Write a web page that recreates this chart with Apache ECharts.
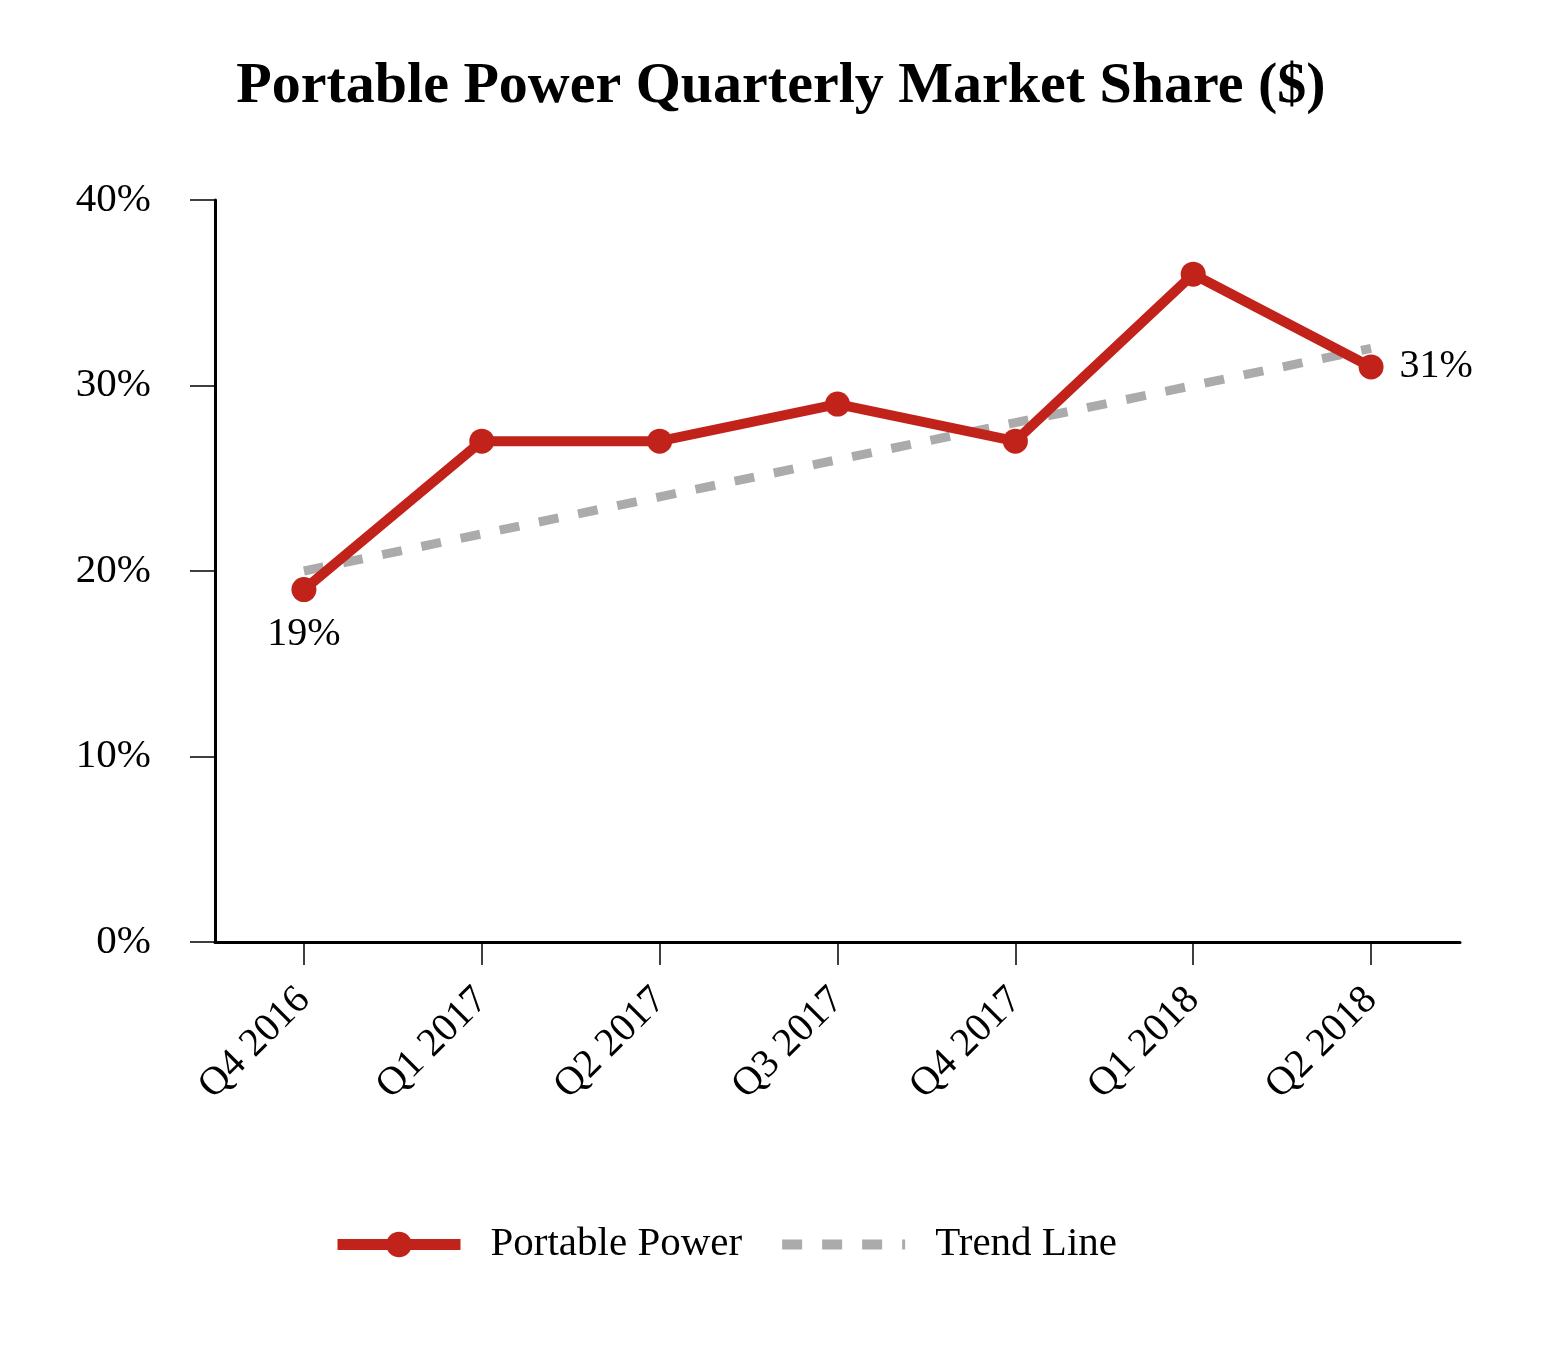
<!DOCTYPE html>
<html>
<head>
<meta charset="utf-8">
<script src="https://cdn.jsdelivr.net/npm/echarts@6/dist/echarts.min.js"></script>
<style>
html,body{margin:0;padding:0;background:#fff;}
#chart{width:1562px;height:1354px;}
</style>
</head>
<body>
<div id="chart"></div>
<script>
const categories = ['Q4 2016','Q1 2017','Q2 2017','Q3 2017','Q4 2017','Q1 2018','Q2 2018'];
const portablePower = [19, 27, 27, 29, 27, 36, 31];
const trendLine = [20, 22, 24, 26, 28, 30, 32];
const yTicks = [0, 10, 20, 30, 40];

const FONT = "'Liberation Serif', 'Times New Roman', serif";
const RED = '#C1221A';
const GRAY = '#ABABAB';

const chart = echarts.init(document.getElementById('chart'), null, {renderer: 'canvas'});

const ppData = portablePower.map((v, i) => {
  if (i === 0) return {value: v, label: {show: true, position: 'bottom', distance: 12}};
  if (i === portablePower.length - 1) return {value: v, label: {show: true, position: 'right', distance: 16, padding: [8, 0, 0, 0]}};
  return v;
});

chart.setOption({
  animation: false,
  backgroundColor: '#fff',
  title: {
    text: 'Portable Power Quarterly Market Share ($)',
    left: 'center',
    top: 53,
    textStyle: {fontFamily: FONT, fontSize: 58, fontWeight: 'bold', color: '#000'}
  },
  grid: {left: 215, right: 102, top: 200, bottom: 412, containLabel: false},
  legend: {
    left: 332,
    top: 1224,
    padding: 0,
    itemWidth: 123,
    itemHeight: 32,
    itemGap: 35,
    textStyle: {fontFamily: FONT, fontSize: 41, color: '#000', padding: [0, 0, 0, 25]},
    data: [
      {name: 'Portable Power', lineStyle: {width: 11, color: RED}},
      {name: 'Trend Line', icon: 'inherit', itemStyle: {opacity: 0}, lineStyle: {width: 10, color: GRAY, type: [20, 20]}}
    ]
  },
  xAxis: {
    type: 'category',
    data: categories,
    boundaryGap: true,
    axisLine: {show: true, lineStyle: {color: '#000', width: 3}},
    axisTick: {show: true, alignWithLabel: true, length: 23, lineStyle: {color: '#000', width: 1.5}},
    axisLabel: {rotate: 45, margin: 52, fontFamily: FONT, fontSize: 40, color: '#000'},
    splitLine: {show: false}
  },
  yAxis: {
    type: 'value',
    min: yTicks[0],
    max: yTicks[yTicks.length - 1],
    interval: 10,
    axisLine: {show: true, lineStyle: {color: '#000', width: 3}},
    axisTick: {show: true, length: 25, lineStyle: {color: '#000', width: 1.5}},
    axisLabel: {formatter: '{value}%', margin: 64, fontFamily: FONT, fontSize: 41, color: '#000', padding: [6, 0, 0, 0]},
    splitLine: {show: false}
  },
  series: [
    {
      name: 'Trend Line',
      type: 'line',
      data: trendLine,
      symbol: 'none',
      z: 2,
      lineStyle: {color: GRAY, width: 9, type: [20, 20], cap: 'butt'},
      itemStyle: {color: GRAY}
    },
    {
      name: 'Portable Power',
      type: 'line',
      data: ppData,
      symbol: 'circle',
      symbolSize: 25,
      z: 3,
      lineStyle: {color: RED, width: 10},
      itemStyle: {color: RED},
      label: {show: false, formatter: '{c}%', fontFamily: FONT, fontSize: 40, color: '#000'}
    }
  ]
});
</script>
</body>
</html>
